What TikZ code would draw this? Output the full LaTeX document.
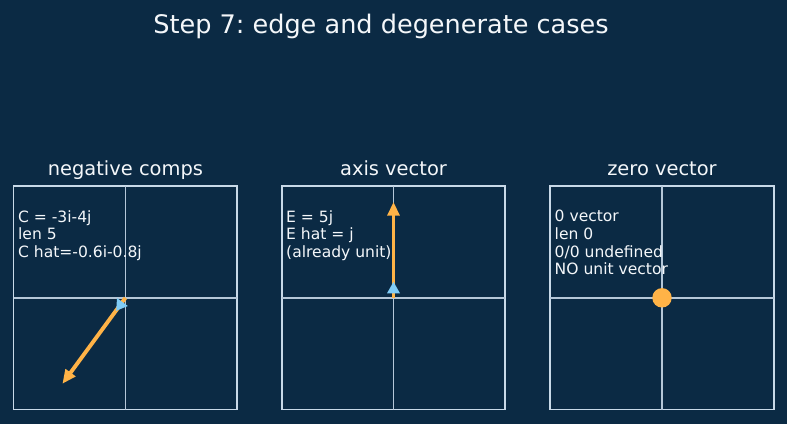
\documentclass[tikz,border=0pt]{standalone}
\usepackage{fontspec}
\setmainfont{DejaVu Sans}
\usepackage{xcolor}
\usetikzlibrary{arrows.meta,positioning}
\frenchspacing

\definecolor{bgnavy}{HTML}{0B2A44}
\definecolor{gridline}{HTML}{C8D9E8}
\definecolor{vecorange}{HTML}{FFB347}
\definecolor{vecblue}{HTML}{7FCCF7}
\definecolor{txtwhite}{HTML}{F4F7FA}

\begin{document}
\begin{tikzpicture}[x=0.72pt,y=-0.72pt,
    frame/.style={draw=gridline, line width=1.2pt, minimum size=160.9pt, inner sep=0pt, outer sep=0pt},
    axisline/.style={draw=gridline!90!bgnavy, line width=1.2pt},
    unitvec/.style={draw=vecorange, line width=2.8pt, -{Triangle[length=10pt,width=8.5pt]}},
    orighead/.style={fill=vecblue},
    zerodot/.style={circle, fill=vecorange, minimum size=14pt, inner sep=0pt},
    info/.style={inner sep=0pt, align=left, text=txtwhite, font=\fontsize{11.2}{12.7}\selectfont},
    paneltitle/.style={inner sep=0pt, text depth=0pt, text=txtwhite, font=\fontsize{14}{16}\selectfont},
    suptitle/.style={inner sep=0pt, text=txtwhite, font=\fontsize{18.4}{22}\selectfont}]

    % Background
    \fill[bgnavy] (0,0) rectangle (787,424);
    \useasboundingbox (0,0) rectangle (787,424);

    % Title
    \node[suptitle, anchor=base] (title) at (381,33.3) {Step 7: edge and degenerate cases};

    % Frames with axes through the origin
    \foreach \cx/\id in {125.4/1, 393.5/2, 662.0/3} {
        \node[frame] (p\id) at (\cx,297.8) {};
        \draw[axisline] (p\id.west) -- (p\id.east);
        \draw[axisline] (p\id.north) -- (p\id.south);
        \coordinate (o\id) at (p\id.center);
    }

    % Panel titles
    \node[paneltitle, above=7.6pt of p1] (t1) {negative comps};
    \node[paneltitle, above=7.6pt of p2] (t2) {axis vector};
    \node[paneltitle, above=7.6pt of p3] (t3) {zero vector};

    % Unit vectors
    \coordinate (c1) at ([shift={(-63,86)}]o1);
    \coordinate (e2) at ([shift={(0,-96)}]o2);
    \draw[unitvec] (o1) -- (c1);
    \draw[unitvec] (o2) -- (e2);

    % Heads of the original vectors
    \fill[orighead] ([shift={(2.4,8.2)}]o1) -- ([shift={(-8.4,0.2)}]o1) -- ([shift={(-9.2,13)}]o1) -- cycle;
    \fill[orighead] ([shift={(-6.5,-4.5)}]o2) -- ([shift={(6.5,-4.5)}]o2) -- ([shift={(0,-16)}]o2) -- cycle;

    % Zero vector
    \node[zerodot] (z3) at (o3) {};

    % Notes
    \node[info, below right=17.2pt and 3pt of p1.north west] (n1) {C = -3i-4j\\len 5\\C hat=-0.6i-0.8j};
    \node[info, below right=17.2pt and 3pt of p2.north west] (n2) {E = 5j\\E hat = j\\(already unit)};
    \node[info, below right=17.2pt and 3pt of p3.north west] (n3) {0 vector\\len 0\\0/0 undefined\\NO unit vector};
\end{tikzpicture}
\end{document}
